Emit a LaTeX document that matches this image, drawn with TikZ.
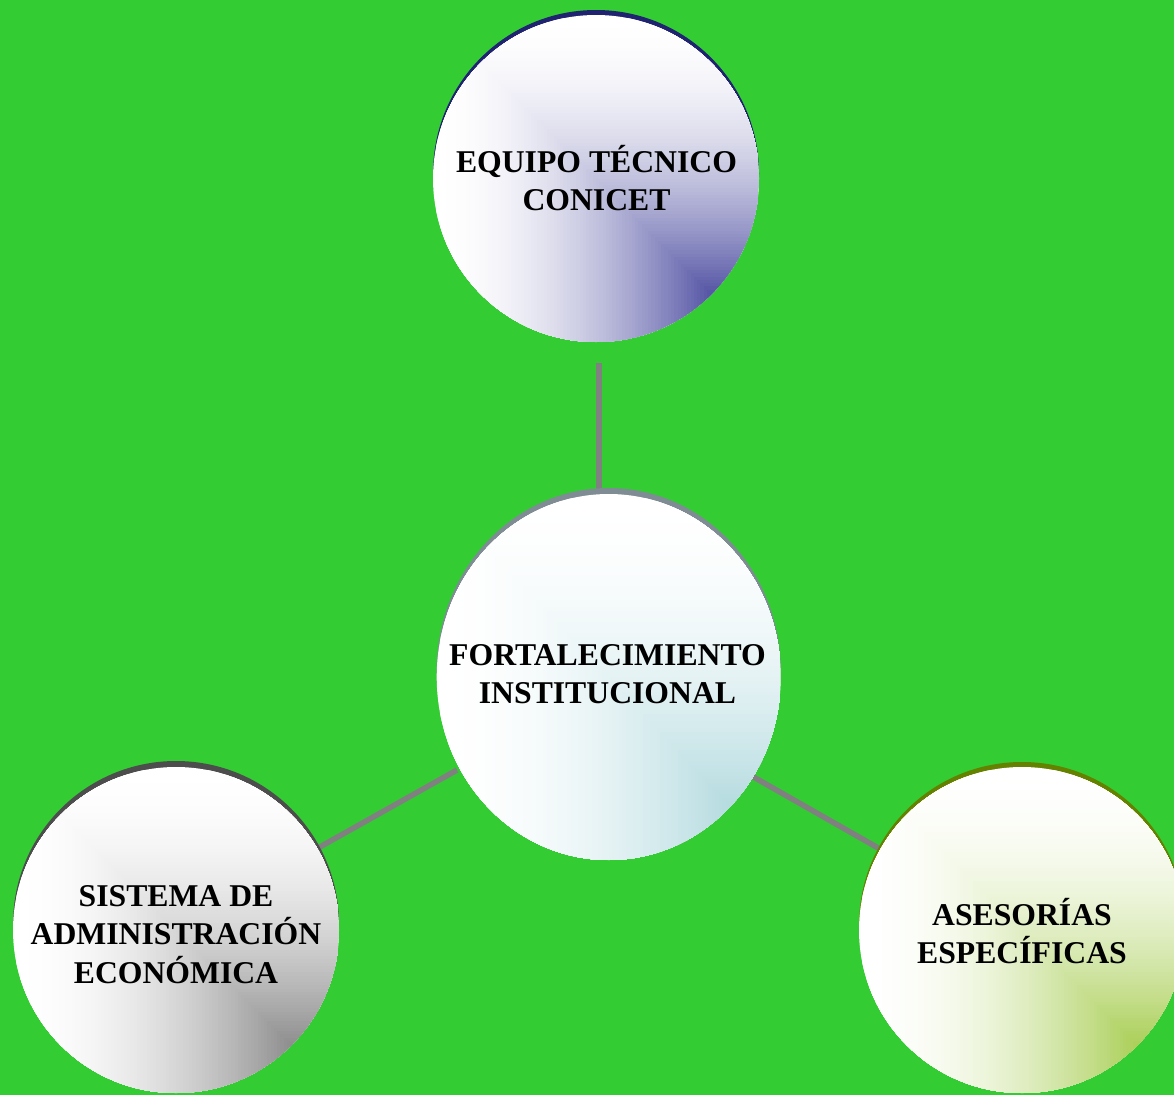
\documentclass[tikz,border=0pt]{standalone}
\usepackage{fontspec}
\setmainfont{Liberation Serif}
\definecolor{bg}{RGB}{51,204,51}
\definecolor{linegray}{RGB}{128,128,128}
\definecolor{topdark}{RGB}{64,64,154}
\definecolor{toprim}{RGB}{31,35,112}
\definecolor{cendark}{RGB}{172,215,220}
\definecolor{cenrim}{RGB}{127,140,148}
\definecolor{ldark}{RGB}{128,128,128}
\definecolor{lrim}{RGB}{77,77,77}
\definecolor{rdark}{RGB}{160,201,68}
\definecolor{rrim}{RGB}{100,130,0}
% #1 cx, #2 cy, #3 rx, #4 ry, #5 dark colour, #6 rim colour, #7 rim offset
\newcommand\gcirc[7]{%
  \fill[#6] (#1,#2-#7) ellipse [x radius=#3, y radius=#4];
  \fill[white] (#1,#2) ellipse [x radius=#3, y radius=#4];
  \begin{scope}
    \clip (#1,#2) ellipse [x radius=#3, y radius=#4];
    \foreach \k in {99,98,...,4} {
      \pgfmathsetmacro\p{100*min(1,((100-\k)/90)^1.9)}
      \pgfmathsetmacro\wx{(\k/50)*#3}
      \pgfmathsetmacro\wy{(\k/50)*#4}
      \fill[#5!\p!white] (#1+#3,#2+#4) rectangle ++(-\wx,-\wy);
    }
  \end{scope}
}
\tikzset{
  conn/.style={draw=linegray, line width=5.5pt},
  lbl/.style={anchor=base, inner sep=0pt, font=\fontsize{31.7}{38}\selectfont\bfseries},
}
\begin{document}
\begin{tikzpicture}[x=1pt,y=-1pt]
\useasboundingbox (0,0) rectangle (1174,1095);
\fill[bg] (0,0) rectangle (1174,1095);
\clip (0,0) rectangle (1174,1095);
% connectors
\coordinate (t1) at (599,363);
\coordinate (t2) at (599,492);
\coordinate (l1) at (318,848);
\coordinate (l2) at (457,770);
\coordinate (r1) at (750,775);
\coordinate (r2) at (880,849);
\draw[conn] (t1) -- (t2);
\draw[conn] (l1) -- (l2);
\draw[conn] (r1) -- (r2);
% circles
\gcirc{596}{178.5}{163}{163.5}{topdark}{toprim}{5}
\gcirc{608.7}{677}{172}{183}{cendark}{cenrim}{6}
\gcirc{176}{930}{163}{163}{ldark}{lrim}{6}
\gcirc{1022}{930}{163}{163}{rdark}{rrim}{5}
% labels
\node[lbl] (top) at (596.5,172) {\begin{tabular}[t]{@{}c@{}}EQUIPO TÉCNICO\\CONICET\end{tabular}};
\node[lbl] (center) at (607.5,665) {\begin{tabular}[t]{@{}c@{}}FORTALECIMIENTO\\INSTITUCIONAL\end{tabular}};
\node[lbl] (left) at (176,906) {\begin{tabular}[t]{@{}c@{}}SISTEMA DE\\ADMINISTRACIÓN\\ECONÓMICA\end{tabular}};
\node[lbl] (right) at (1022,925) {\begin{tabular}[t]{@{}c@{}}ASESORÍAS\\ESPECÍFICAS\end{tabular}};
\end{tikzpicture}
\end{document}
